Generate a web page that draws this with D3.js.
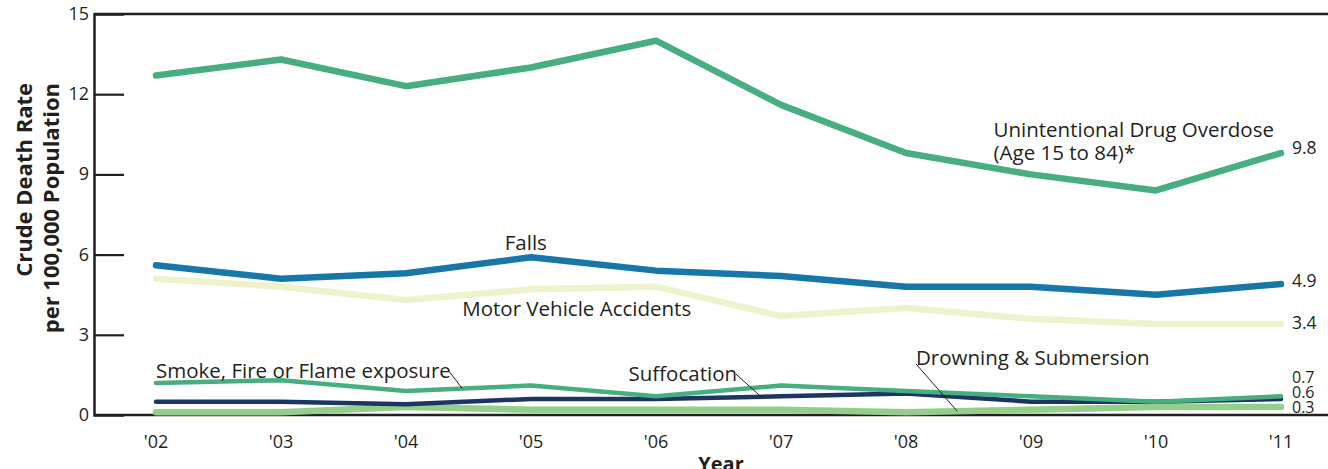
<!DOCTYPE html>
<html><head><meta charset="utf-8">
<script src="https://cdn.jsdelivr.net/npm/d3@7"></script>
<style>
html,body{margin:0;padding:0;background:#fff;}
svg{display:block;font-family:"Open Sans","Lato",sans-serif;}
</style></head>
<body>
<svg id="chart" width="1328" height="469"></svg>
<script>
const years = ["'02","'03","'04","'05","'06","'07","'08","'09","'10","'11"];
const yTicks = [0,3,6,9,12,15];
const drugOverdose = [12.7,13.3,12.3,13.0,14.0,11.6,9.8,9.0,8.4,9.8];
const falls = [5.6,5.1,5.3,5.9,5.4,5.2,4.8,4.8,4.5,4.9];
const motorVehicle = [5.1,4.8,4.3,4.7,4.8,3.7,4.0,3.6,3.4,3.4];
const smokeFire = [1.2,1.3,0.9,1.1,0.7,1.1,0.9,0.7,0.5,0.7];
const suffocation = [0.5,0.5,0.4,0.6,0.6,0.7,0.8,0.5,0.5,0.6];
const drowning = [0.1,0.1,0.3,0.2,0.2,0.2,0.1,0.2,0.3,0.3];
const endLabels = ["9.8","4.9","3.4","0.7","0.6","0.3"];

const svg = d3.select("#chart");
const x = d3.scaleLinear().domain([0, years.length-1]).range([156, 1281]);
const y = d3.scaleLinear().domain([0, 15]).range([415, 14]);
const ink = "#231f20";

// frame lines
svg.append("line").attr("x1",94).attr("x2",1328).attr("y1",y(15)).attr("y2",y(15)).attr("stroke",ink).attr("stroke-width",2.5);
svg.append("line").attr("x1",94).attr("x2",1328).attr("y1",y(0)).attr("y2",y(0)).attr("stroke",ink).attr("stroke-width",2.5);

// y axis
const yAxis = d3.axisRight(y).tickValues(yTicks).tickSize(30).tickFormat("");
const ga = svg.append("g").attr("transform","translate(94,0)").call(yAxis);
ga.select(".domain").attr("stroke",ink).attr("stroke-width",2.5);
ga.selectAll(".tick line").attr("stroke",ink).attr("stroke-width",2.2)
  .filter(d => d===0 || d===15).remove();
svg.append("g").selectAll("text").data(yTicks).join("text")
  .attr("x",89).attr("y",d=>y(d)+6).attr("text-anchor","end")
  .attr("font-size",18).attr("fill",ink).text(d=>d);

// x labels
svg.append("g").selectAll("text").data(years).join("text")
  .attr("x",(d,i)=>x(i)).attr("y",448).attr("text-anchor","middle")
  .attr("font-size",18).attr("fill",ink).text(d=>d);

// axis titles
svg.append("text").attr("x",721).attr("y",471).attr("text-anchor","middle")
  .attr("font-size",20).attr("font-weight","bold").attr("fill",ink).text("Year");
const yt = svg.append("g").attr("transform","translate(0,83) rotate(-90)");
yt.append("text").attr("x",0).attr("y",32).attr("text-anchor","end")
  .attr("font-size",22).attr("font-weight","bold").attr("fill",ink).text("Crude Death Rate");
yt.append("text").attr("x",0).attr("y",59).attr("text-anchor","end")
  .attr("font-size",22).attr("font-weight","bold").attr("fill",ink).text("per 100,000 Population");

// lines
const line = d3.line().x((d,i)=>x(i)).y(d=>y(d));
const series = [
  {data: motorVehicle, color:"#eef3cd", w:6.5},
  {data: falls, color:"#1877a9", w:6.5},
  {data: drugOverdose, color:"#46ae7f", w:6.5},
  {data: drowning, color:"#93cf8b", w:6.5},
  {data: suffocation, color:"#1c3562", w:4.5},
  {data: smokeFire, color:"#46ae7f", w:4.5}
];
svg.append("g").selectAll("path").data(series).join("path")
  .attr("d",d=>line(d.data)).attr("fill","none")
  .attr("stroke",d=>d.color).attr("stroke-width",d=>d.w)
  .attr("stroke-linecap","round").attr("stroke-linejoin","round");

// end value labels
const endVals = [9.8, 4.9, 3.4, 0.7, 0.6, 0.3];
const endOffsets = [1, 3, 5, -13, -1, 6];
const endSizes = [17.5, 17.5, 17.5, 16, 16, 16];
svg.append("g").selectAll("text").data(endLabels).join("text")
  .attr("x",x(9)+11).attr("y",(d,i)=>y(endVals[i])+endOffsets[i])
  .attr("font-size",(d,i)=>endSizes[i]).attr("fill",ink).text(d=>d);

// series labels
const lab = (t, xi, v) => svg.append("text")
  .attr("x",x(xi)).attr("y",y(v))
  .attr("font-size",20.5).attr("fill",ink).text(t);
lab("Unintentional Drug Overdose", 6.70, 10.40);
lab("(Age 15 to 84)*", 6.70, 9.54);
lab("Falls", 2.79, 6.17);
lab("Motor Vehicle Accidents", 2.45, 3.70);
lab("Smoke, Fire or Flame exposure", 0, 1.38);
lab("Suffocation", 3.78, 1.27);
lab("Drowning & Submersion", 6.08, 1.87);

// leader lines
const interp = (arr, t) => { const i = Math.floor(t), f = t - i; return arr[i]*(1-f) + arr[Math.min(i+1,arr.length-1)]*f; };
const leaders = [
  {t0:2.35, v0:1.6, t1:2.45, arr:smokeFire},
  {t0:4.64, v0:1.53, t1:4.84, arr:suffocation},
  {t0:6.08, v0:1.91, t1:6.41, arr:drowning}
];
svg.append("g").selectAll("line").data(leaders).join("line")
  .attr("x1",d=>x(d.t0)).attr("y1",d=>y(d.v0))
  .attr("x2",d=>x(d.t1)).attr("y2",d=>y(interp(d.arr,d.t1)))
  .attr("stroke",ink).attr("stroke-width",1);
</script>
</body></html>
